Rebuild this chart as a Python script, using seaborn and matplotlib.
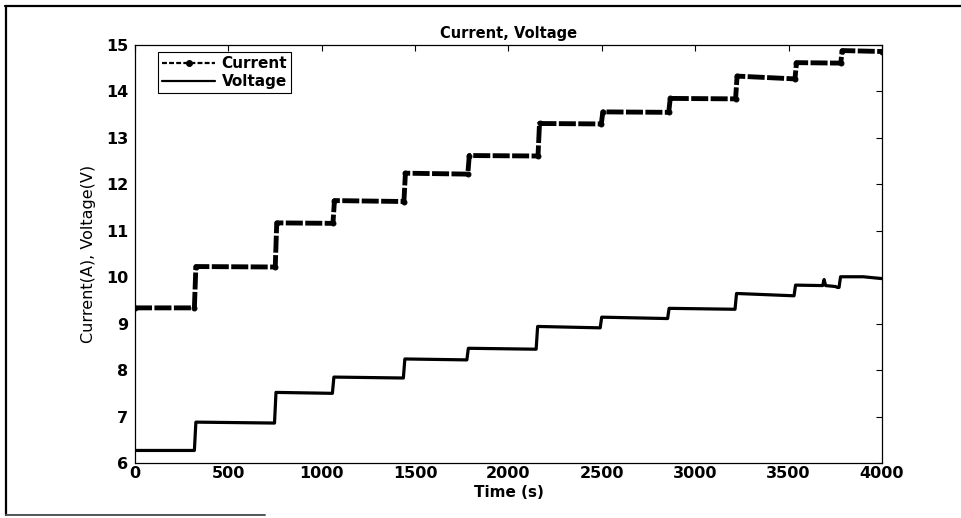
import matplotlib
matplotlib.use("Agg")
import matplotlib.pyplot as plt
import seaborn as sns
import pandas as pd
from matplotlib.lines import Line2D

# ---- data (vertices of the recorded step curves) ----
current_t = [0, 318, 326, 751, 759, 1060, 1068, 1440, 1448, 1782, 1790, 2158, 2166,
             2497, 2505, 2858, 2866, 3216, 3224, 3534, 3542, 3779, 3787, 4000]
current_v = [9.34, 9.34, 10.23, 10.22, 11.17, 11.16, 11.65, 11.63, 12.24, 12.22, 12.62, 12.61,
             13.31, 13.30, 13.56, 13.55, 13.85, 13.84, 14.33, 14.27, 14.62, 14.61, 14.88, 14.86]

voltage_t = [0, 318, 326, 747, 755, 1057, 1065, 1437, 1445, 1777, 1785, 2148, 2156,
             2491, 2499, 2852, 2860, 3213, 3221, 3529, 3537, 3682, 3690, 3698, 3750,
             3762, 3770, 3778, 3900, 4000]
voltage_v = [6.27, 6.27, 6.88, 6.86, 7.52, 7.50, 7.85, 7.83, 8.24, 8.22, 8.47, 8.45, 8.94,
             8.91, 9.14, 9.11, 9.33, 9.31, 9.65, 9.60, 9.83, 9.82, 9.95, 9.82, 9.80,
             9.78, 9.78, 10.01, 10.01, 9.97]

x_ticks = [0, 500, 1000, 1500, 2000, 2500, 3000, 3500, 4000]
y_ticks = [6, 7, 8, 9, 10, 11, 12, 13, 14, 15]

title = "Current, Voltage"
xlabel = "Time (s)"
ylabel = "Current(A), Voltage(V)"
labels = ["Current", "Voltage"]

df_c = pd.DataFrame({"t": current_t, "v": current_v})
df_v = pd.DataFrame({"t": voltage_t, "v": voltage_v})

sns.set_style("white")
plt.rcParams["font.family"] = ["DejaVu Sans"]
plt.rcParams["text.color"] = "black"
plt.rcParams["axes.labelcolor"] = "black"

fig = plt.figure(figsize=(9.62, 5.18), dpi=100)
ax = fig.add_axes([135 / 962, 1 - 463 / 518, 747 / 962, 418 / 518])

sns.lineplot(data=df_c, x="t", y="v", ax=ax, color="black", linewidth=3.5,
             linestyle=(0, (3.5, 0.5)), marker="o", markersize=3.5,
             markeredgecolor="black", markerfacecolor="black",
             sort=False, estimator=None)
sns.lineplot(data=df_v, x="t", y="v", ax=ax, color="black", linewidth=2.3,
             sort=False, estimator=None)

ax.set_xlim(0, 4000)
ax.set_ylim(6, 15)
ax.set_xticks(x_ticks)
ax.set_yticks(y_ticks)
ax.set_xticklabels([str(v) for v in x_ticks], fontsize=11.5, fontweight="bold")
ax.set_yticklabels([str(v) for v in y_ticks], fontsize=11.5, fontweight="bold")
ax.tick_params(direction="in", length=4, width=0.8, top=True, right=True,
               colors="black")
ax.tick_params(axis="x", pad=2)
ax.tick_params(axis="y", pad=5)
for s in ax.spines.values():
    s.set_visible(True)
    s.set_color("black")
    s.set_linewidth(0.9)

ax.set_title(title, fontsize=10.5, fontweight="bold", pad=5, color="black")
ax.set_xlabel(xlabel, fontsize=11, fontweight="bold", labelpad=3)
ax.set_ylabel(ylabel, fontsize=11.5, labelpad=7)

handles = [
    Line2D([], [], color="black", linewidth=1.6, linestyle=(0, (2.2, 1.0)),
           marker="o", markersize=4),
    Line2D([], [], color="black", linewidth=1.6),
]
leg = ax.legend(handles, labels, loc="upper left", bbox_to_anchor=(0.031, 0.983),
                borderaxespad=0, frameon=True, fancybox=False, framealpha=1,
                edgecolor="black", handlelength=3.5, handletextpad=0.4,
                borderpad=0.25, labelspacing=0.2, numpoints=1,
                prop={"weight": "bold", "size": 11})
leg.get_frame().set_linewidth(0.8)

# scanned page frame
fig.add_artist(Line2D([5 / 962, 1.0], [1 - 6 / 518, 1 - 6 / 518],
                      transform=fig.transFigure, color="black", linewidth=1.6))
fig.add_artist(Line2D([6 / 962, 6 / 962], [1 - 6 / 518, 1 - 515 / 518],
                      transform=fig.transFigure, color="black", linewidth=1.6))
fig.add_artist(Line2D([6 / 962, 265 / 962], [1 - 515 / 518, 1 - 515 / 518],
                      transform=fig.transFigure, color="#555555", linewidth=1.4))

fig.savefig("out.png", dpi=100, facecolor="white")
